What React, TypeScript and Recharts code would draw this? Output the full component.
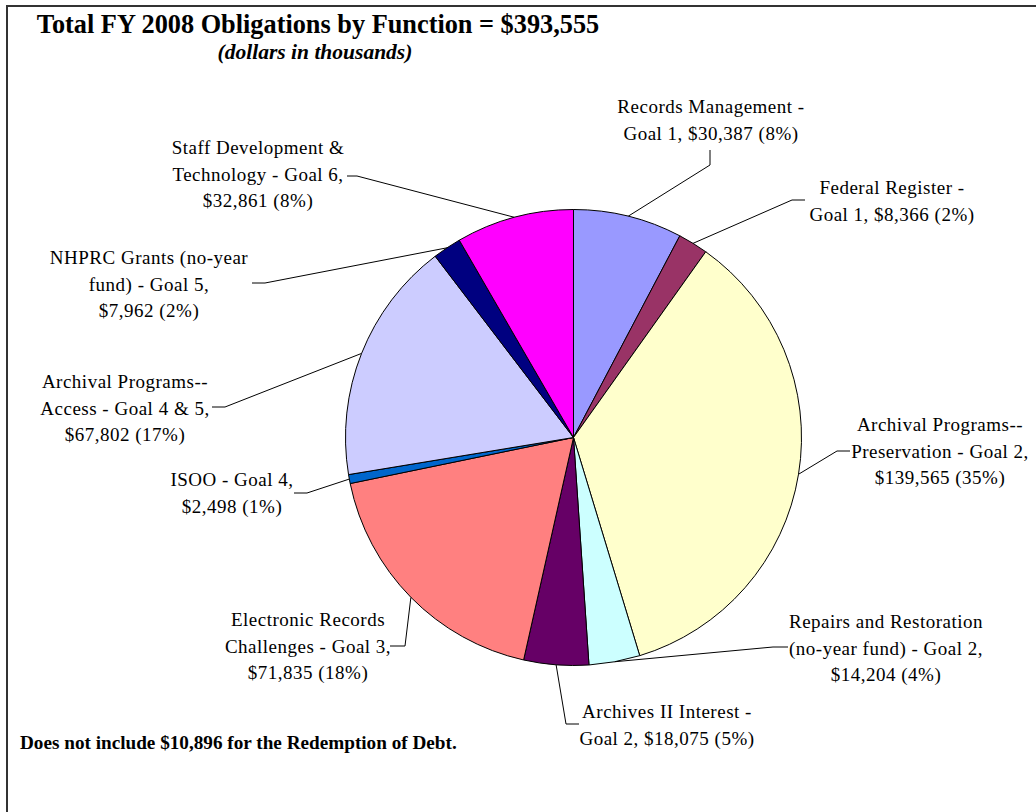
import { Cell, Pie, PieChart } from 'recharts'

const categories = [
  'Records Management',
  'Federal Register',
  'Archival Programs--Preservation',
  'Repairs and Restoration',
  'Archives II Interest',
  'Electronic Records Challenges',
  'ISOO',
  'Archival Programs--Access',
  'NHPRC Grants',
  'Staff Development & Technology',
]

const obligations = [30387, 8366, 139565, 14204, 18075, 71835, 2498, 67802, 7962, 32861]

const labelLines = [
  ['Records Management -', 'Goal 1, $30,387 (8%)'],
  ['Federal Register -', 'Goal 1, $8,366 (2%)'],
  ['Archival Programs--', 'Preservation - Goal 2,', '$139,565 (35%)'],
  ['Repairs and Restoration', '(no-year fund) - Goal 2,', '$14,204 (4%)'],
  ['Archives II Interest -', 'Goal 2, $18,075 (5%)'],
  ['Electronic Records', 'Challenges - Goal 3,', '$71,835 (18%)'],
  ['ISOO - Goal 4,', '$2,498 (1%)'],
  ['Archival Programs--', 'Access - Goal 4 & 5,', '$67,802 (17%)'],
  ['NHPRC Grants (no-year', 'fund) - Goal 5,', '$7,962 (2%)'],
  ['Staff Development &', 'Technology - Goal 6,', '$32,861 (8%)'],
]

const colors = [
  '#9999FF',
  '#993366',
  '#FFFFCC',
  '#CCFFFF',
  '#660066',
  '#FF8080',
  '#0066CC',
  '#CCCCFF',
  '#000080',
  '#FF00FF',
]

// label placement: text centre x, first baseline y, elbow point, text-side end of leader
const labelLayout = [
  { tx: 711, ty: 113, ex: 710, ey: 165, ax: 710, ay: 150 },
  { tx: 892, ty: 194, ex: 792, ey: 200, ax: 805, ay: 200 },
  { tx: 940, ty: 431, ex: 837, ey: 451, ax: 850, ay: 451 },
  { tx: 886, ty: 628, ex: 773, ey: 647, ax: 788, ay: 647 },
  { tx: 667, ty: 718, ex: 566, ey: 724, ax: 579, ay: 724 },
  { tx: 308, ty: 626, ex: 405, ey: 646, ax: 390, ay: 646 },
  { tx: 232, ty: 486, ex: 307, ey: 493, ax: 294, ay: 493 },
  { tx: 125, ty: 388, ex: 225, ey: 407, ax: 212, ay: 407 },
  { tx: 149, ty: 264, ex: 265, ey: 283, ax: 252, ay: 283 },
  { tx: 258, ty: 154, ex: 357, ey: 176, ax: 347, ay: 176 },
]

const data = categories.map((name, i) => ({ name, value: obligations[i] }))

const FONT = '"Liberation Serif", "Times New Roman", serif'
const RADIAN = Math.PI / 180

function SliceLabel(props: any) {
  const { cx, cy, midAngle, outerRadius, index } = props
  const l = labelLayout[index]
  const px = cx + outerRadius * Math.cos(-midAngle * RADIAN)
  const py = cy + outerRadius * Math.sin(-midAngle * RADIAN)
  return (
    <g>
      <polyline
        points={`${px},${py} ${l.ex},${l.ey} ${l.ax},${l.ay}`}
        fill="none"
        stroke="#000"
        strokeWidth={1}
      />
      <text
        x={l.tx}
        y={l.ty}
        textAnchor="middle"
        fontFamily={FONT}
        fontSize={19}
        letterSpacing={0.5}
        fill="#000"
      >
        {labelLines[index].map((line, j) => (
          <tspan key={j} x={l.tx} dy={j === 0 ? 0 : 26.5}>
            {line}
          </tspan>
        ))}
      </text>
    </g>
  )
}

export default function App() {
  return (
    <div
      style={{
        position: 'absolute',
        left: 0,
        top: 0,
        width: 1036,
        height: 812,
        overflow: 'hidden',
        background: '#fff',
      }}
    >
      <svg
        width={1036}
        height={812}
        style={{ position: 'absolute', left: 0, top: 0, pointerEvents: 'none' }}
      >
        <rect x={7} y={6} width={1100} height={900} fill="none" stroke="#333" strokeWidth={2} />
        <text x={318} y={33} textAnchor="middle" fontFamily={FONT} fontWeight="bold" fontSize={26.3}>
          Total FY 2008 Obligations by Function = $393,555
        </text>
        <text
          x={315}
          y={59}
          textAnchor="middle"
          fontFamily={FONT}
          fontWeight="bold"
          fontStyle="italic"
          fontSize={21.5}
        >
          (dollars in thousands)
        </text>
        <text x={20} y={749} fontFamily={FONT} fontWeight="bold" fontSize={19.2}>
          Does not include $10,896 for the Redemption of Debt.
        </text>
      </svg>
      <div style={{ position: 'absolute', left: 0, top: 0 }}>
        <PieChart width={1036} height={812} margin={{ top: 0, right: 0, bottom: 0, left: 0 }}>
          <Pie
            data={data}
            dataKey="value"
            nameKey="name"
            cx={573.5}
            cy={437.5}
            outerRadius={228}
            startAngle={90}
            endAngle={-270}
            stroke="#000"
            strokeWidth={1}
            label={SliceLabel}
            labelLine={false}
            isAnimationActive={false}
          >
            {data.map((_, i) => (
              <Cell key={i} fill={colors[i]} />
            ))}
          </Pie>
        </PieChart>
      </div>
    </div>
  )
}
